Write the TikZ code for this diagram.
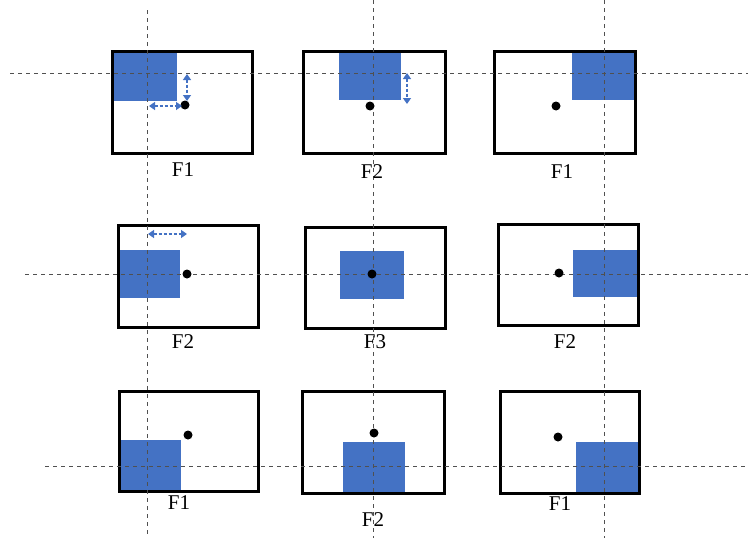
\documentclass[tikz,border=0pt]{standalone}
\usepackage{fontspec}
\setmainfont{Liberation Serif}
\usetikzlibrary{arrows.meta}
\definecolor{pblue}{RGB}{68,114,196}
\definecolor{guide}{RGB}{80,80,80}
\tikzset{
  frame/.style={draw=black, line width=3pt, fill=none, inner sep=0pt, anchor=north west},
  bluebox/.style={fill=pblue, draw=none, inner sep=0pt, anchor=north west},
  dotnode/.style={circle, fill=black, draw=none, inner sep=0pt, minimum size=9pt},
  lab/.style={font=\fontsize{21}{23}\selectfont, inner sep=0pt},
  guideline/.style={draw=guide, line width=0.9pt, dash pattern=on 4pt off 4pt},
  bluearrow/.style={draw=pblue, line width=1.4pt, dash pattern=on 3pt off 2pt, {Triangle[width=8pt,length=6pt]}-{Triangle[width=8pt,length=6pt]}}
}
\begin{document}
\begin{tikzpicture}[x=1pt,y=-1pt]
\useasboundingbox (0,0) rectangle (748,538);
% blue rectangles
\node[bluebox, minimum width=66pt, minimum height=51pt] (r1) at (111,50) {};
\node[bluebox, minimum width=62pt, minimum height=50pt] (r2) at (339,50) {};
\node[bluebox, minimum width=62pt, minimum height=50pt] (r3) at (572,50) {};
\node[bluebox, minimum width=63pt, minimum height=48pt] (r4) at (117,250) {};
\node[bluebox, minimum width=64pt, minimum height=48pt] (r5) at (340,251) {};
\node[bluebox, minimum width=64pt, minimum height=47pt] (r6) at (573,250) {};
\node[bluebox, minimum width=63pt, minimum height=50pt] (r7) at (118,440) {};
\node[bluebox, minimum width=62pt, minimum height=50pt] (r8) at (343,442) {};
\node[bluebox, minimum width=62pt, minimum height=50pt] (r9) at (576,442) {};
% frames
\node[frame, minimum width=140pt, minimum height=102pt] (b1) at (111,50) {};
\node[frame, minimum width=142pt, minimum height=102pt] (b2) at (302,50) {};
\node[frame, minimum width=141pt, minimum height=102pt] (b3) at (493,50) {};
\node[frame, minimum width=140pt, minimum height=102pt] (b4) at (117,224) {};
\node[frame, minimum width=140pt, minimum height=101pt] (b5) at (304,226) {};
\node[frame, minimum width=140pt, minimum height=101pt] (b6) at (497,223) {};
\node[frame, minimum width=139pt, minimum height=100pt] (b7) at (118,390) {};
\node[frame, minimum width=142pt, minimum height=102pt] (b8) at (301,390) {};
\node[frame, minimum width=139pt, minimum height=102pt] (b9) at (499,390) {};
% guide lines
\coordinate (v1a) at (147,10);  \coordinate (v1b) at (147,538);
\coordinate (v2a) at (373,0);   \coordinate (v2b) at (373,538);
\coordinate (v3a) at (604,0);   \coordinate (v3b) at (604,538);
\coordinate (h1a) at (10,73);   \coordinate (h1b) at (748,73);
\coordinate (h2a) at (25,274);  \coordinate (h2b) at (748,274);
\coordinate (h3a) at (45,466);  \coordinate (h3b) at (748,466);
\draw[guideline] (v1a) -- (v1b);
\draw[guideline] (v2a) -- (v2b);
\draw[guideline] (v3a) -- (v3b);
\draw[guideline] (h1a) -- (h1b);
\draw[guideline] (h2a) -- (h2b);
\draw[guideline] (h3a) -- (h3b);
% dots
\node[dotnode] (d1) at (185,105) {};
\node[dotnode] (d2) at (370,106) {};
\node[dotnode] (d3) at (556,106) {};
\node[dotnode] (d4) at (187,274) {};
\node[dotnode] (d5) at (372,274) {};
\node[dotnode] (d6) at (559,273) {};
\node[dotnode] (d7) at (188,435) {};
\node[dotnode] (d8) at (374,433) {};
\node[dotnode] (d9) at (558,437) {};
% arrows
\coordinate (a1s) at (187,74);  \coordinate (a1e) at (187,101);
\coordinate (a2s) at (149,106); \coordinate (a2e) at (182,106);
\coordinate (a3s) at (407,73);  \coordinate (a3e) at (407,104);
\coordinate (a4s) at (148,234); \coordinate (a4e) at (187,234);
\draw[bluearrow] (a1s) -- (a1e);
\draw[bluearrow] (a2s) -- (a2e);
\draw[bluearrow] (a3s) -- (a3e);
\draw[bluearrow] (a4s) -- (a4e);
% labels
\node[lab] (l1) at (183,170) {F1};
\node[lab] (l2) at (372,172) {F2};
\node[lab] (l3) at (562,172) {F1};
\node[lab] (l4) at (183,342) {F2};
\node[lab] (l5) at (375,342) {F3};
\node[lab] (l6) at (565,342) {F2};
\node[lab] (l7) at (179,503) {F1};
\node[lab] (l8) at (373,520) {F2};
\node[lab] (l9) at (560,504) {F1};
\end{tikzpicture}
\end{document}
